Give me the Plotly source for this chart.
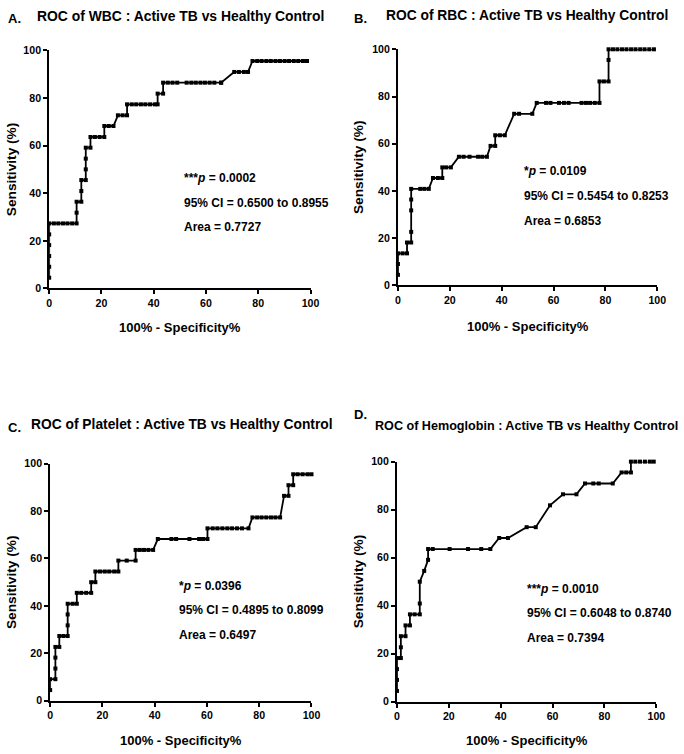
import plotly.graph_objects as go

W, H = 684, 754

# ROC points (100% - specificity, sensitivity)
wbc_x = [0, 0, 0, 0, 0, 0, 1.8, 3.5, 5.3, 7.0, 8.8, 10.5, 10.5, 10.5, 12.3, 12.3, 12.3,
         14.0, 14.0, 14.0, 14.0, 15.8, 15.8, 17.5, 19.3, 21.1, 21.1, 22.8, 24.6, 26.3, 28.1,
         29.8, 29.8, 31.6, 33.3, 35.1, 36.8, 38.6, 40.4, 41.5, 41.5, 43.6, 43.6, 45.4, 47.2,
         49.0, 52.6, 54.4, 56.1, 57.9, 59.6, 61.4, 63.2, 65.8, 65.8, 70.8, 72.6, 74.5, 76.1,
         77.8, 79.6, 81.3, 83.1, 84.8, 86.6, 88.3, 90.1, 91.8, 93.6, 95.3, 97.1, 98.6, 98.6]
wbc_y = [4.5, 9.1, 13.6, 18.2, 22.7, 27.3, 27.3, 27.3, 27.3, 27.3, 27.3, 27.3, 31.8, 36.4,
         36.4, 40.9, 45.5, 45.5, 50.0, 54.5, 59.1, 59.1, 63.6, 63.6, 63.6, 63.6, 68.2, 68.2,
         68.2, 72.7, 72.7, 72.7, 77.3, 77.3, 77.3, 77.3, 77.3, 77.3, 77.3, 77.3, 81.8, 81.8,
         86.4, 86.4, 86.4, 86.4, 86.4, 86.4, 86.4, 86.4, 86.4, 86.4, 86.4, 86.4, 86.4, 90.9,
         90.9, 90.9, 90.9, 95.5, 95.5, 95.5, 95.5, 95.5, 95.5, 95.5, 95.5, 95.5, 95.5, 95.5,
         95.5, 95.5, 95.5, 100]

rbc_x = [0, 0, 0, 1.8, 3.5, 3.5, 5.1, 5.1, 5.1, 5.1, 5.1, 8.6, 10.2, 11.9, 13.5, 15.4, 17.1,
         17.1, 18.6, 20.4, 23.5, 25.3, 27.6, 30.9, 32.5, 34.3, 35.7, 37.5, 37.5, 39.3, 41.2,
         44.8, 46.7, 51.8, 53.5, 57.1, 58.8, 62.1, 64.0, 65.8, 70.8, 72.5, 74.1, 75.9, 77.7,
         77.7, 79.4, 81.2, 81.2, 81.2, 82.9, 84.6, 86.4, 88.1, 89.9, 91.6, 93.4, 95.1, 96.9, 98.7]
rbc_y = [4.5, 9.1, 13.6, 13.6, 13.6, 18.2, 18.2, 22.7, 31.8, 36.4, 40.9, 40.9, 40.9, 40.9,
         45.5, 45.5, 45.5, 50.0, 50.0, 50.0, 54.5, 54.5, 54.5, 54.5, 54.5, 54.5, 59.1, 59.1,
         63.6, 63.6, 63.6, 72.7, 72.7, 72.7, 77.3, 77.3, 77.3, 77.3, 77.3, 77.3, 77.3, 77.3,
         77.3, 77.3, 77.3, 86.4, 86.4, 86.4, 95.5, 100, 100, 100, 100, 100, 100, 100, 100, 100,
         100, 100]

plt_x = [0, 0, 2.0, 2.0, 2.0, 2.0, 3.5, 3.5, 5.1, 6.7, 6.7, 6.7, 6.7, 8.6, 10.2, 10.2, 11.9,
         13.8, 15.7, 15.7, 17.3, 17.3, 19.1, 20.9, 22.6, 24.5, 26.1, 26.1, 29.3, 32.7, 32.7,
         34.3, 35.9, 37.6, 39.4, 41.2, 46.4, 48.2, 53.3, 57.0, 58.5, 60.2, 60.2, 62.2, 64.0,
         65.9, 67.8, 69.6, 71.5, 73.4, 75.9, 77.4, 79.2, 80.9, 82.7, 84.5, 86.2, 88.0, 89.5,
         91.2, 91.2, 93.0, 93.0, 94.7, 96.6, 98.5, 100]
plt_y = [4.5, 9.1, 9.1, 13.6, 18.2, 22.7, 22.7, 27.3, 27.3, 27.3, 31.8, 36.4, 40.9, 40.9,
         40.9, 45.5, 45.5, 45.5, 45.5, 50.0, 50.0, 54.5, 54.5, 54.5, 54.5, 54.5, 54.5, 59.1,
         59.1, 59.1, 63.6, 63.6, 63.6, 63.6, 63.6, 68.2, 68.2, 68.2, 68.2, 68.2, 68.2, 68.2,
         72.7, 72.7, 72.7, 72.7, 72.7, 72.7, 72.7, 72.7, 72.7, 77.3, 77.3, 77.3, 77.3, 77.3,
         77.3, 77.3, 86.4, 86.4, 90.9, 90.9, 95.5, 95.5, 95.5, 95.5, 95.5]

hgb_x = [0, 0, 0, 0, 1.5, 1.5, 1.5, 3.3, 3.3, 5.0, 5.0, 6.8, 8.8, 8.8, 8.8, 10.5, 12.0, 12.0,
         13.8, 20.3, 27.4, 32.5, 36.0, 39.4, 42.8, 50.0, 53.5, 59.0, 64.0, 69.2, 72.5, 75.7,
         77.8, 83.2, 86.6, 88.4, 90.2, 90.2, 91.9, 93.7, 95.6, 97.5, 99.0]
hgb_y = [4.5, 9.1, 13.6, 18.2, 18.2, 22.7, 27.3, 27.3, 31.8, 31.8, 36.4, 36.4, 36.4, 40.9,
         50.0, 54.5, 59.1, 63.6, 63.6, 63.6, 63.6, 63.6, 63.6, 68.2, 68.2, 72.7, 72.7, 81.8,
         86.4, 86.4, 90.9, 90.9, 90.9, 90.9, 95.5, 95.5, 95.5, 100, 100, 100, 100, 100, 100]

panels = [
    ("A.", "ROC of WBC : Active TB vs Healthy Control", wbc_x, wbc_y,
     ["***<i>p</i> = 0.0002", "95% CI = 0.6500 to 0.8955", "Area = 0.7727"]),
    ("B.", "ROC of RBC : Active TB vs Healthy Control", rbc_x, rbc_y,
     ["*<i>p</i> = 0.0109", "95% CI = 0.5454 to 0.8253", "Area = 0.6853"]),
    ("C.", "ROC of Platelet : Active TB vs Healthy Control", plt_x, plt_y,
     ["*<i>p</i> = 0.0396", "95% CI = 0.4895 to 0.8099", "Area = 0.6497"]),
    ("D.", "ROC of Hemoglobin : Active TB vs Healthy Control", hgb_x, hgb_y,
     ["***<i>p</i> = 0.0010", "95% CI = 0.6048 to 0.8740", "Area = 0.7394"]),
]

# plot boxes in pixels: left, right, top, bottom
boxes = [(47, 313, 45, 287), (402, 666, 44, 284), (48, 314, 465, 706), (401, 665, 463, 707)]
label_pos = [(3, 13), (355, 13), (3, 428), (355, 415)]
title_pos = [(181, 10), (533, 10), (182, 425), (533, 427)]
title_size = [13.9, 13.8, 13.8, 12.6]
stats_pos = [(182, 175), (528, 168), (177, 589), (531, 592)]
ytitle_x = [8, 362, 8, 362]
xtitle_y = [327, 326, 746, 746]

FONT = "Liberation Sans, Arial, sans-serif"


def px(x):
    return x / W


def py(y):
    return 1 - y / H


fig = go.Figure()
ann = []
for i, (lab, title, xs, ys, stats) in enumerate(panels):
    n = "" if i == 0 else str(i + 1)
    l, r, t, b = boxes[i]
    fig.add_trace(go.Scatter(
        x=xs, y=ys, mode="lines+markers", xaxis="x" + n, yaxis="y" + n,
        line=dict(color="black", width=1.8),
        marker=dict(symbol="square", size=4, color="black"),
        cliponaxis=False, showlegend=False))
    ax = dict(range=[0, 100], tickvals=[0, 20, 40, 60, 80, 100], showline=True,
              linecolor="black", linewidth=2, ticks="outside", ticklen=4, tickwidth=2,
              tickcolor="black", showgrid=False, zeroline=False,
              tickfont=dict(family=FONT, size=10.6, color="black", weight="bold"))
    fig.update_layout({
        "xaxis" + n: dict(ax, domain=[px(l), px(r)], anchor="y" + n),
        "yaxis" + n: dict(ax, domain=[py(b), py(t)], anchor="x" + n),
    })
    ann.append(dict(text="<b>" + lab + "</b>", x=px(label_pos[i][0]), y=py(label_pos[i][1]),
                    xanchor="left", yanchor="middle", font=dict(size=13)))
    ann.append(dict(text="<b>" + title + "</b>", x=px(title_pos[i][0]), y=py(title_pos[i][1]),
                    xanchor="center", yanchor="middle", font=dict(size=title_size[i])))
    for k, s in enumerate(stats):
        ann.append(dict(text="<b>" + s + "</b>", x=px(stats_pos[i][0]),
                        y=py(stats_pos[i][1] + 25 * k), xanchor="left", yanchor="middle",
                        font=dict(size=12)))
    ann.append(dict(text="<b>Sensitivity (%)</b>", x=px(ytitle_x[i]), y=py((t + b) / 2),
                    textangle=-90, xanchor="center", yanchor="middle", font=dict(size=13.7)))
    ann.append(dict(text="<b>100% - Specificity%</b>", x=px((l + r) / 2), y=py(xtitle_y[i]),
                    xanchor="center", yanchor="middle", font=dict(size=13)))

for a in ann:
    a.update(xref="paper", yref="paper", showarrow=False)
    a["font"].update(family=FONT, color="black")

fig.update_layout(
    width=W, height=H, margin=dict(l=0, r=0, t=0, b=0),
    paper_bgcolor="white", plot_bgcolor="white", annotations=ann,
)

# page body has a default 8px margin; drop it so the figure fills the window
fig.write_html("out.html", config={"displayModeBar": False},
               post_script="document.body.style.margin='0';")
